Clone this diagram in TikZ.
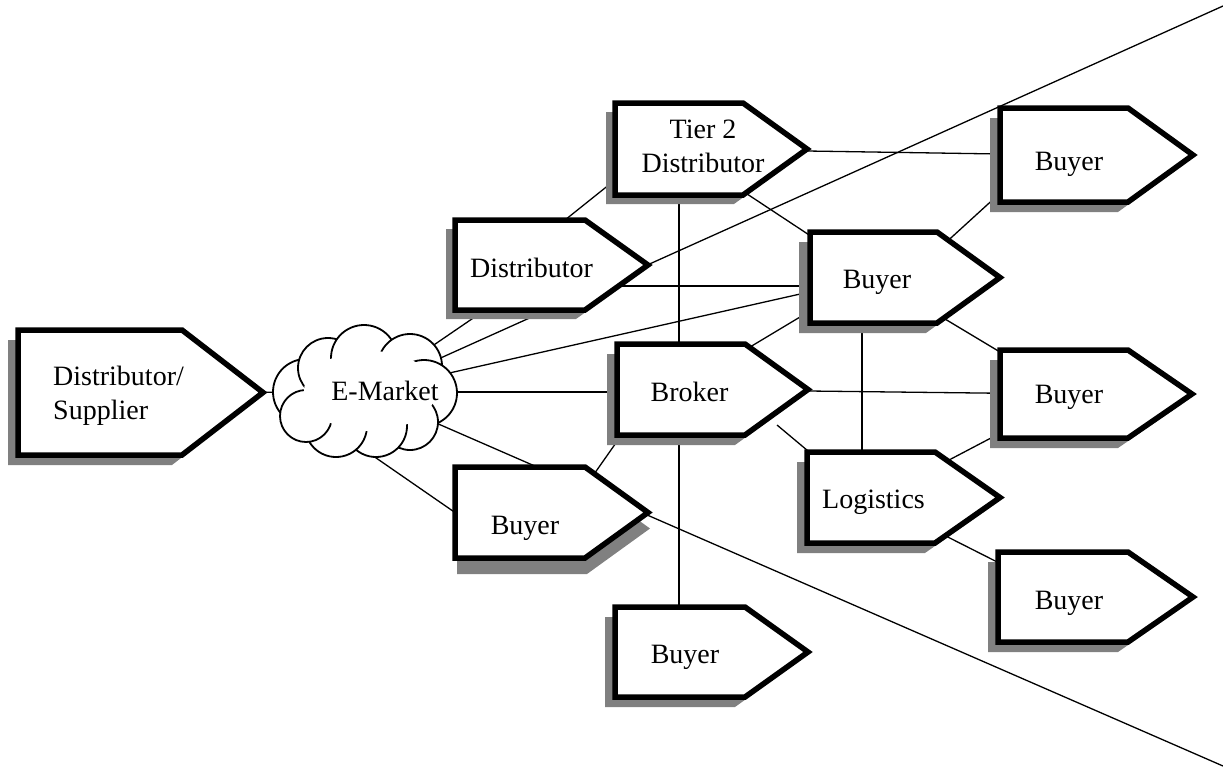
\documentclass[tikz,border=0pt]{standalone}
\usepackage{fontspec}
\setmainfont{Liberation Serif}
\usetikzlibrary{calc}
\pgfdeclarelayer{links}
\pgfdeclarelayer{shadows}
\pgfdeclarelayer{shapes}
\pgfsetlayers{links,shadows,shapes,main}

\tikzset{
  body/.style={rectangle, inner sep=0pt, outer sep=0pt},
  outline/.style={draw=black, fill=white, line width=5.5pt, line join=miter, miter limit=10},
  shade/.style={fill=black!50},
  link/.style={draw=black, line width=1.3pt},
  lbl/.style={inner sep=0pt, anchor=base, font=\fontsize{28}{34}\selectfont},
  puff/.style={draw=black, fill=white, line width=1.8pt},
}

% #1 name, #2 left, #3 top, #4 body width, #5 height, #6 point length, #7/#8 shadow offset
\newcommand\pentanode[8]{%
  \node[body, minimum width=#4pt, minimum height=#5pt, anchor=north west] (#1) at (#2,#3) {};
  \begin{pgfonlayer}{shadows}
    \path[shade, transform canvas={shift={(#7,#8)}}]
      (#1.north west) -- (#1.north east) -- ([xshift=#6pt]#1.east)
      -- (#1.south east) -- (#1.south west) -- cycle;
  \end{pgfonlayer}
  \begin{pgfonlayer}{shapes}
    \path[outline]
      (#1.north west) -- (#1.north east) -- ([xshift=#6pt]#1.east)
      -- (#1.south east) -- (#1.south west) -- cycle;
  \end{pgfonlayer}
}

\begin{document}
\begin{tikzpicture}[x=1pt, y=-1pt]
\useasboundingbox (0,0) rectangle (1223,774);

% boxes
\pentanode{sup}{18}{330}{164}{125}{81}{-10}{10}
\pentanode{tier2}{615}{103}{128}{92}{64}{-9}{9}
\pentanode{dist}{455}{220}{130}{90}{63}{-9}{9}
\pentanode{buyerA}{1000}{108}{128}{94}{65}{-10}{10}
\pentanode{buyerB}{810}{232}{127}{91}{63}{-11}{10}
\pentanode{broker}{617}{344}{128}{91}{63}{-10}{10}
\pentanode{buyerC}{1000}{350}{128}{88}{64}{-10}{10}
\pentanode{logistics}{807}{452}{128}{91}{65}{-10}{10}
\pentanode{buyerD}{998}{552}{130}{90}{65}{-10}{10}
\pentanode{buyerE}{455}{467}{130}{91}{63}{2}{16}
\pentanode{buyerF}{615}{607}{130}{90}{63}{-10}{10}

% the e-market cloud: overlapping puffs, centre wiped so only short curls stay inside
\coordinate (cloud) at (365,392);
\begin{pgfonlayer}{shapes}
  \foreach \cx/\cy/\r in {306/392/33, 328/368/30, 364/358/33, 410/366/32,
                          424/393/33, 410/422/28, 376/426/31, 336/426/31, 306/416/26}
    \path[puff] (\cx,\cy) circle[radius=\r pt];
  \fill[white] (370,391) ellipse[x radius=66pt, y radius=40pt];
\end{pgfonlayer}

% labels
\node[lbl, anchor=base west] (sup-t) at (53,385) {\vtop{\hbox{Distributor/}\hbox{Supplier}}};
\node[lbl] (tier2-t) at (703,138)
  {\vtop{\hbox to 140pt{\hfil Tier 2\hfil}\hbox to 140pt{\hfil Distributor\hfil}}};
\node[lbl] (dist-t) at (531.5,277) {Distributor};
\node[lbl] (buyerA-t) at (1069,170) {Buyer};
\node[lbl] (buyerB-t) at (877,288) {Buyer};
\node[lbl] (broker-t) at (689.5,401) {Broker};
\node[lbl] (buyerC-t) at (1069,403) {Buyer};
\node[lbl] (logistics-t) at (873.5,508) {Logistics};
\node[lbl] (buyerD-t) at (1069,609) {Buyer};
\node[lbl] (buyerE-t) at (525,534) {Buyer};
\node[lbl] (buyerF-t) at (685,663) {Buyer};
\node[lbl] (emarket-t) at (385,400) {E-Market};

% free ends
\coordinate (farup) at (1223,6);
\coordinate (fardown) at (1223,766);
\coordinate (dlink) at ($(dist.south)+(0,-24)$);
\coordinate (brokerlink) at ($(broker.south east)+(32,-10)$);

% connectors
\begin{pgfonlayer}{links}
  \draw[link] (sup.center) -- (cloud);
  \draw[link] (cloud) -- ($(dist.south west)+(30,0)$);
  \draw[link] (cloud) -- (farup);
  \draw[link] (cloud) -- (fardown);
  \draw[link] (cloud) -- (buyerB.center);
  \draw[link] (cloud) -- (cloud -| broker.center);
  \draw[link] ($(cloud)+(-25,41)$) -- (buyerE.west);
  \draw[link] ($(tier2.south west)+(30,-39)$) -- ($(dist.north west)+(90,16)$);
  \draw[link] (tier2.center) -- (buyerA.center);
  \draw[link] (tier2.center) -- (buyerB.center);
  \draw[link] (tier2.center) -- (tier2.center |- buyerF.center);
  \draw[link] (dlink) -- (dlink -| buyerB.center);
  \draw[link] ($(buyerA.south west)+(10,-18)$) -- ($(buyerB.north east)+(-7,25)$);
  \draw[link] ($(broker.north east)+(-5,9)$) -- ($(buyerB.south west)+(10,-18)$);
  \draw[link] ($(buyerB.south west)+(52,-20)$) -- ($(logistics.north west)+(55,15)$);
  \draw[link] ($(buyerB.south east)+(-17,-19)$) -- ($(buyerC.north west)+(20,14)$);
  \draw[link] (broker.center) -- (buyerC.center);
  \draw[link] (brokerlink) -- ($(logistics.north west)+(13,9)$);
  \draw[link] ($(buyerC.south west)+(10,-10)$) -- ($(logistics.north east)+(-5,18)$);
  \draw[link] ($(logistics.south east)+(-5,-15)$) -- ($(buyerD.north west)+(17,19)$);
  \draw[link] ($(broker.south west)+(8,-5)$) -- ($(buyerE.north east)+(0,20)$);
\end{pgfonlayer}
\end{tikzpicture}
\end{document}
